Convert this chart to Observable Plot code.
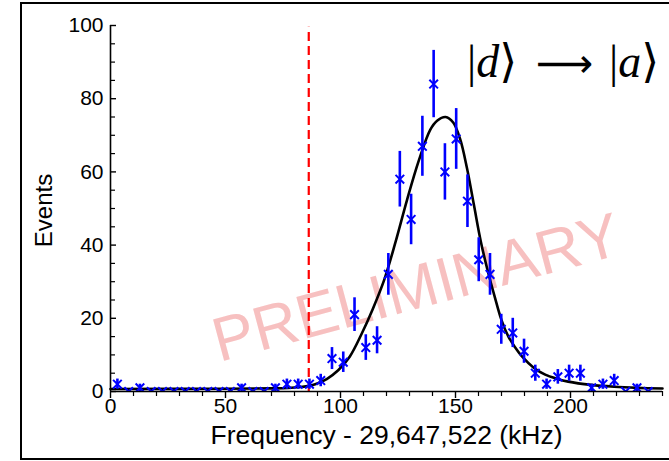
<!DOCTYPE html>
<html>
<head>
<meta charset="utf-8">
<script src="https://cdn.jsdelivr.net/npm/d3@7"></script>
<script src="https://cdn.jsdelivr.net/npm/@observablehq/plot@0.6"></script>
<style>
  html, body { margin: 0; padding: 0; background: #fff; }
  #wrap { position: relative; width: 669px; height: 461px; overflow: hidden; }
  #frame { position: absolute; left: 20px; top: 2px; width: 700px; height: 454px; border: 2px solid #000; pointer-events: none; }
  .ket { position: absolute; top: 39px; font-family: "Liberation Serif", "DejaVu Serif", serif; font-size: 46px; line-height: 1; color: #000; white-space: nowrap; }
  .ket i { font-style: italic; }
  #arrow { position: absolute; left: 536px; top: 43px; font-family: "DejaVu Sans ExtraLight", "DejaVu Sans", sans-serif; font-size: 40px; line-height: 1; color: #000; }
</style>
</head>
<body>
<div id="wrap">
  <div id="chart"></div>
  <div class="ket" style="left:467px">|<i>d</i>⟩</div>
  <div id="arrow">⟶</div>
  <div class="ket" style="left:609px">|<i>a</i>⟩</div>
  <div id="frame"></div>
</div>
<script>
// Measured bins (frequency offset in kHz) and counts
const freq = [3.0, 7.9, 12.8, 17.7, 22.6, 27.6, 32.5, 37.4, 42.3, 47.2, 52.1, 57.0, 61.9, 66.8, 71.7, 76.7, 81.6, 86.5, 91.4, 96.3, 101.2, 106.1, 111.0, 115.9, 120.8, 125.8, 130.7, 135.6, 140.5, 145.4, 150.3, 155.2, 160.1, 165.0, 169.9, 174.9, 179.8, 184.7, 189.6, 194.5, 199.4, 204.3, 209.2, 214.1, 219.0, 224.0, 228.9, 233.8];
const events = [2, 0, 1, 0, 0, 0, 0, 0, 0, 0, 0, 1, 0, 0, 1, 2, 2, 2, 3, 9, 8, 21, 12, 14, 32, 58, 47, 67, 84, 60, 69, 52, 36, 32, 17, 16, 11, 5, 2, 4, 5, 5, 1, 2, 3, 0, 1, 0];
const errors = [1.4, 0, 1, 0, 0, 0, 0, 0, 0, 0, 0, 1, 0, 0, 1, 1.4, 1.4, 1.4, 1.7, 3, 2.8, 4.6, 3.5, 3.7, 5.7, 7.6, 6.9, 8.2, 9.2, 7.7, 8.3, 7.2, 6, 5.7, 4.1, 4, 3.3, 2.2, 1.4, 2, 2.2, 2.2, 1, 1.4, 1.7, 0, 1, 0];

// Fit curve
const fitX = [0, 50, 70, 75, 80, 85, 89, 94, 99, 104, 109, 114, 119, 124, 129, 134, 139, 142, 145.7, 149, 152, 155, 158, 161, 164, 167, 170, 173, 176, 179, 184, 189, 194, 199, 209, 219, 229, 240];
const fitY = [0.7, 0.75, 0.85, 0.9, 1.1, 1.4, 2.0, 3.4, 5.8, 9.5, 15.5, 22.5, 30.5, 41, 52.5, 63, 71.5, 74, 75, 73.5, 69, 61, 51, 41, 33, 26, 19.5, 15, 12, 9.5, 6.5, 4.6, 3.5, 2.7, 1.8, 1.3, 1.0, 0.8];

// Threshold line
const cutoff = [86.2];
const cutoffTop = [99.5];

// Axes
const xDomain = [0, 240];
const yDomain = [0, 100];
const xMajor = [0, 50, 100, 150, 200];
const xMinor = [10, 20, 30, 40, 60, 70, 80, 90, 110, 120, 130, 140, 160, 170, 180, 190, 210, 220, 230, 240];
const yMajor = [0, 20, 40, 60, 80, 100];
const yMinor = [5, 10, 15, 25, 30, 35, 45, 50, 55, 65, 70, 75, 85, 90, 95];

const xLabel = "Frequency - 29,647,522 (kHz)";
const yLabel = "Events";
const watermark = "PRELIMINARY";

const points = freq.map((f, i) => ({f, n: events[i], e: errors[i]}));
const fit = fitX.map((x, i) => ({x, y: fitY[i]}));

const chart = Plot.plot({
  width: 669,
  height: 461,
  marginLeft: 110,
  marginRight: 7,
  marginTop: 25,
  marginBottom: 70,
  style: {fontFamily: "'Liberation Sans', Arial, sans-serif", background: "transparent"},
  x: {domain: xDomain},
  y: {domain: yDomain},
  marks: [
    Plot.text([watermark], {frameAnchor: "middle", dx: 30, dy: 80, rotate: -15, fontSize: 62, fill: "#f7c0c0", textAnchor: "middle", lineAnchor: "middle"}),
    Plot.ruleX(cutoff, {x: d => d, y1: 0, y2: (d, i) => cutoffTop[i], stroke: "#ff0000", strokeWidth: 2.2, strokeDasharray: "9,5"}),
    Plot.line(fit, {x: "x", y: "y", curve: "catmull-rom", stroke: "#000", strokeWidth: 2.6}),
    Plot.ruleX(points.filter(d => d.e > 0), {x: "f", y1: d => d.n - d.e, y2: d => d.n + d.e, stroke: "#0000ff", strokeWidth: 2.6, clip: true}),
    Plot.dot(points, {x: "f", y: "n", symbol: "times", r: 4, stroke: "#0000ff", strokeWidth: 2, clip: true}),
    // axes lines
    Plot.ruleY([0], {stroke: "#000", strokeWidth: 1.6}),
    Plot.ruleX([0], {y1: 0, y2: 100, stroke: "#000", strokeWidth: 1.6}),
    // x ticks (outside) and labels
    Plot.axisX({ticks: xMinor, tickSize: 5, tickFormat: () => "", label: null, strokeWidth: 1.2}),
    Plot.axisX({ticks: xMajor, tickSize: 7, tickPadding: 0, fontSize: 21, label: null, strokeWidth: 1.4}),
    // y ticks (inside) and labels
    Plot.axisY({ticks: yMinor, tickSize: -5, tickFormat: () => "", label: null, strokeWidth: 1.2}),
    Plot.axisY({ticks: yMajor, tickSize: -6, tickPadding: 13, fontSize: 21, label: null, strokeWidth: 1.4}),
    Plot.text([xLabel], {frameAnchor: "bottom", dy: 44, fontSize: 26.5, fill: "#000", textAnchor: "middle", lineAnchor: "middle"}),
    Plot.text([yLabel], {frameAnchor: "left", dx: -66, dy: 2, rotate: -90, fontSize: 24, fill: "#000", textAnchor: "middle", lineAnchor: "middle"})
  ]
});
document.getElementById("chart").appendChild(chart);
</script>
</body>
</html>
